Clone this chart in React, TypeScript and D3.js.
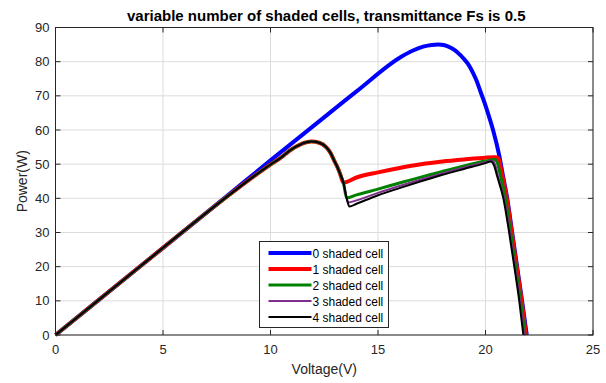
import React from "react";
import * as d3 from "d3";

const xTicks = [0, 5, 10, 15, 20, 25];
const yTicks = [0, 10, 20, 30, 40, 50, 60, 70, 80, 90];

const common: [number, number][] = [
  [0, 0], [4, 20.4], [8, 40.6], [9, 45.4], [9.5, 47.7], [10, 49.9], [10.5, 52], [10.9, 54],
  [11.4, 55.8], [11.9, 56.6], [12.3, 56.2], [12.6, 54.9], [12.8, 53.2], [12.95, 51.2],
  [13.1, 49.3], [13.23, 47.3], [13.39, 44.6],
];

const blue: [number, number][] = [
  [0, 0], [4, 20.4], [8, 40.8], [10, 51.1], [12, 61.2], [14, 71.3], [16.1, 81.5], [16.6, 83.2],
  [17.1, 84.4], [17.5, 84.9], [17.8, 85], [18.1, 84.8], [18.43, 83.9], [18.7, 82.7], [18.97, 81],
  [19.2, 79.2], [19.43, 76.6], [19.6, 74.2], [19.74, 71.7], [20.02, 66.8], [20.2, 63.2],
  [20.36, 59.8], [20.64, 52.5], [20.8, 47], [21.01, 40], [21.24, 30], [21.47, 20], [21.7, 10], [21.92, 0],
];

const red: [number, number][] = [
  ...common, [14, 46.1], [15, 47.6], [16, 48.9], [17, 50], [18, 50.8], [19, 51.4],
  [20, 51.9], [20.45, 52], [20.6, 51.8], [20.75, 47.5], [20.99, 40], [21.22, 30], [21.45, 20],
  [21.68, 10], [21.88, 0],
];

const green: [number, number][] = [
  ...common, [13.54, 40.1], [14, 41], [15, 42.7], [16, 44.5], [17, 46.2], [18, 47.9], [19, 49.5],
  [20, 50.9], [20.44, 51.4], [20.55, 50.4], [20.7, 46.5], [20.93, 40], [21.17, 30], [21.4, 20],
  [21.63, 10], [21.84, 0],
];

const purple: [number, number][] = [
  ...common, [13.54, 40.1], [13.61, 38.8], [14, 39.4], [15, 41.6], [16, 43.6], [17, 45.5], [18, 47.3],
  [19, 49], [20, 50.6], [20.33, 51], [20.45, 49.8], [20.6, 46], [20.87, 40], [21.13, 30],
  [21.37, 20], [21.6, 10], [21.8, 0],
];

const black: [number, number][] = [
  ...common, [13.54, 40.1], [13.67, 37.6], [14, 38.4], [15, 40.9], [16, 43], [17, 45], [18, 46.9],
  [19, 48.6], [20, 50.3], [20.25, 50.8], [20.4, 49.6], [20.55, 46.3], [20.83, 40], [21.1, 30],
  [21.34, 20], [21.57, 10], [21.76, 0],
];

const seriesNames = ["0 shaded cell", "1 shaded cell", "2 shaded cell", "3 shaded cell", "4 shaded cell"];
const seriesData = [blue, red, green, purple, black];
const seriesColors = ["#0000ff", "#ff0000", "#008000", "#7e2f8e", "#000000"];
const seriesWidths = [4, 4, 3, 2, 2];

const W = 606;
const H = 383;
const m = { left: 55.5, right: 593, top: 27.5, bottom: 335 };
const font = "Arial, 'Liberation Sans', Helvetica, sans-serif";

export default function App() {
  const x = d3.scaleLinear().domain([0, 25]).range([m.left, m.right]);
  const y = d3.scaleLinear().domain([0, 90]).range([m.bottom, m.top]);
  const line = d3
    .line<[number, number]>()
    .x((d) => x(d[0]))
    .y((d) => y(d[1]))
    .curve(d3.curveMonotoneX);

  const legX = 259.5;
  const legY = 241.5;
  const legW = 129;
  const legH = 86;
  const rowY = (i: number) => legY + 11.5 + i * 16;

  return (
    <svg
      width={W}
      height={H}
      style={{ position: "absolute", left: 0, top: 0, background: "#fff" }}
      fontFamily={font}
    >
      <rect x={0} y={0} width={W} height={H} fill="#fff" />
      {xTicks.map((t) => (
        <line key={"gx" + t} x1={x(t)} x2={x(t)} y1={m.top} y2={m.bottom} stroke="#dcdcdc" strokeWidth={1} />
      ))}
      {yTicks.map((t) => (
        <line key={"gy" + t} x1={m.left} x2={m.right} y1={y(t)} y2={y(t)} stroke="#dcdcdc" strokeWidth={1} />
      ))}
      {xTicks.map((t) => (
        <g key={"tx" + t}>
          <line x1={x(t)} x2={x(t)} y1={m.bottom} y2={m.bottom - 5} stroke="#262626" />
          <line x1={x(t)} x2={x(t)} y1={m.top} y2={m.top + 5} stroke="#262626" />
          <text x={x(t)} y={m.bottom + 19} textAnchor="middle" fontSize={13} fill="#262626">
            {t}
          </text>
        </g>
      ))}
      {yTicks.map((t) => (
        <g key={"ty" + t}>
          <line x1={m.left} x2={m.left + 5} y1={y(t)} y2={y(t)} stroke="#262626" />
          <line x1={m.right} x2={m.right - 5} y1={y(t)} y2={y(t)} stroke="#262626" />
          <text x={m.left - 6} y={y(t) + 4.5} textAnchor="end" fontSize={13} fill="#262626">
            {t}
          </text>
        </g>
      ))}
      {seriesData.map((d, i) => (
        <path
          key={"s" + i}
          d={line(d) || ""}
          fill="none"
          stroke={seriesColors[i]}
          strokeWidth={seriesWidths[i]}
          strokeLinejoin="round"
        />
      ))}
      <rect
        x={m.left}
        y={m.top}
        width={m.right - m.left}
        height={m.bottom - m.top}
        fill="none"
        stroke="#262626"
        strokeWidth={1}
      />
      <rect x={legX} y={legY} width={legW} height={legH} fill="#fff" stroke="#262626" strokeWidth={1} />
      {seriesNames.map((n, i) => (
        <g key={"l" + i}>
          <line
            x1={legX + 9}
            x2={legX + 52}
            y1={rowY(i)}
            y2={rowY(i)}
            stroke={seriesColors[i]}
            strokeWidth={seriesWidths[i]}
          />
          <text x={legX + 53} y={rowY(i) + 4.5} fontSize={12} fill="#000">
            {n}
          </text>
        </g>
      ))}
      <text x={(m.left + m.right) / 2 + 2} y={21} textAnchor="middle" fontSize={15} fontWeight="bold" fill="#000">
        variable number of shaded cells, transmittance Fs is 0.5
      </text>
      <text x={(m.left + m.right) / 2} y={374} textAnchor="middle" fontSize={14} fill="#262626">
        Voltage(V)
      </text>
      <text
        transform={`translate(27, ${(m.top + m.bottom) / 2}) rotate(-90)`}
        textAnchor="middle"
        fontSize={14}
        fill="#262626"
      >
        Power(W)
      </text>
    </svg>
  );
}
